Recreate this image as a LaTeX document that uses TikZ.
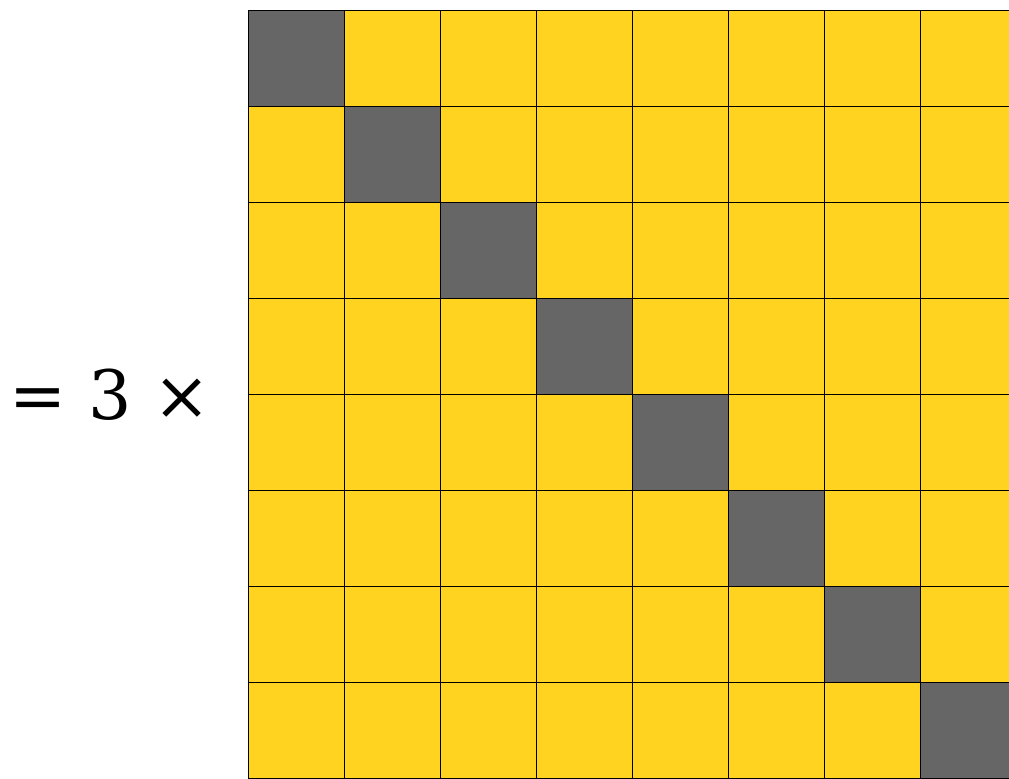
\documentclass[tikz,border=0pt]{standalone}
\usepackage{fontspec}
\setmainfont{DejaVu Serif}
\usepackage{tikz}
\usetikzlibrary{positioning}
\definecolor{celloff}{RGB}{255,211,32}
\definecolor{celldiag}{RGB}{102,102,102}
\newcommand{\cellbox}[2]{\fill[#1] #2 rectangle ++(1,1);}
\newcommand{\gridframe}{\draw[black,line width=0.25pt,step=1] (0,0) grid (8,8);}

\begin{document}
\begin{tikzpicture}
		\useasboundingbox (-2.5833,0) rectangle (7.9271,8.1042);
		\clip (-2.5833,0) rectangle (7.9271,8.1042);
		\fill[celloff] (0,0) rectangle (8,8);
		\foreach \k in {0,...,7} {\cellbox{celldiag}{(\k,7-\k)}}
		\gridframe
		\node[font=\fontsize{20.2}{24}\selectfont,anchor=center] (factor) at (-1.44,3.99) {= 3 ×};
\end{tikzpicture}
\end{document}
